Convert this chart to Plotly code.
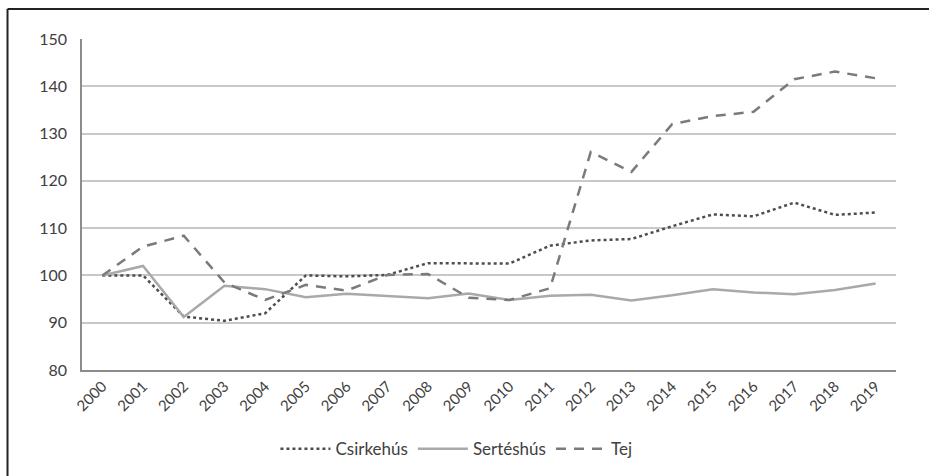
import plotly.graph_objects as go

years = [str(y) for y in range(2000, 2020)]
csirkehus = [100, 100, 91.3, 90.4, 92, 100, 99.8, 100.1, 102.6, 102.5, 102.5, 106.3, 107.4, 107.7, 110.4, 112.9, 112.5, 115.4, 112.8, 113.3]
serteshus = [100, 102, 91.2, 97.8, 97.1, 95.4, 96.1, 95.7, 95.2, 96.2, 94.8, 95.7, 95.9, 94.7, 95.8, 97.1, 96.4, 96.0, 96.9, 98.3]
tej = [100, 106.1, 108.4, 98.5, 94.8, 98.0, 96.8, 100.1, 100.3, 95.3, 94.8, 97.3, 126.1, 121.9, 132.0, 133.7, 134.6, 141.5, 143.1, 141.7]
y_ticks = [80, 90, 100, 110, 120, 130, 140, 150]

font_family = "Lato, 'Open Sans', sans-serif"
text_color = "#404040"

fig = go.Figure()
fig.add_trace(go.Scatter(x=years, y=csirkehus, name="Csirkehús", mode="lines",
                         line=dict(color="#4d4d4d", width=2.5, dash="dot")))
fig.add_trace(go.Scatter(x=years, y=serteshus, name="Sertéshús", mode="lines",
                         line=dict(color="#a9a9a9", width=2.5, dash="solid")))
fig.add_trace(go.Scatter(x=years, y=tej, name="Tej", mode="lines",
                         line=dict(color="#7a7a7a", width=2.5, dash="10px,8px")))

fig.update_layout(
    width=929, height=476,
    margin=dict(l=82, r=33, t=39, b=106, autoexpand=False),
    paper_bgcolor="white", plot_bgcolor="white",
    font=dict(family=font_family, size=14, color=text_color),
    showlegend=True,
    legend=dict(orientation="h", x=0.46, xanchor="center", y=-0.185, yanchor="top",
                font=dict(size=17, color=text_color), tracegroupgap=0, itemwidth=50),
    xaxis=dict(type="category", range=[-0.5, 19.5], tickangle=-45, showgrid=False,
               automargin=False,
               showline=True, linecolor="#8c8c8c", linewidth=1.5,
               ticks="", tickfont=dict(size=15, color=text_color)),
    yaxis=dict(range=[80, 150], tickvals=y_ticks, showgrid=True, automargin=False,
               gridcolor="#c8c8c8", gridwidth=1.5, zeroline=False,
               showline=True, linecolor="#8c8c8c", linewidth=1.5,
               ticks="", ticklen=0, ticklabelstandoff=10,
               tickfont=dict(size=16, color=text_color)),
)

# outer frame (left and top edges)
fig.add_shape(type="line", xref="paper", yref="paper", x0=-0.0915, x1=-0.0915, y0=1.0906, y1=-0.33,
              line=dict(color="#222222", width=2))
fig.add_shape(type="line", xref="paper", yref="paper", x0=-0.0915, x1=1.05, y0=1.0906, y1=1.0906,
              line=dict(color="#222222", width=2))

fig.write_html("out.html", config={"displayModeBar": False},
               post_script="document.body.style.margin='0';document.body.style.overflow='hidden';")
